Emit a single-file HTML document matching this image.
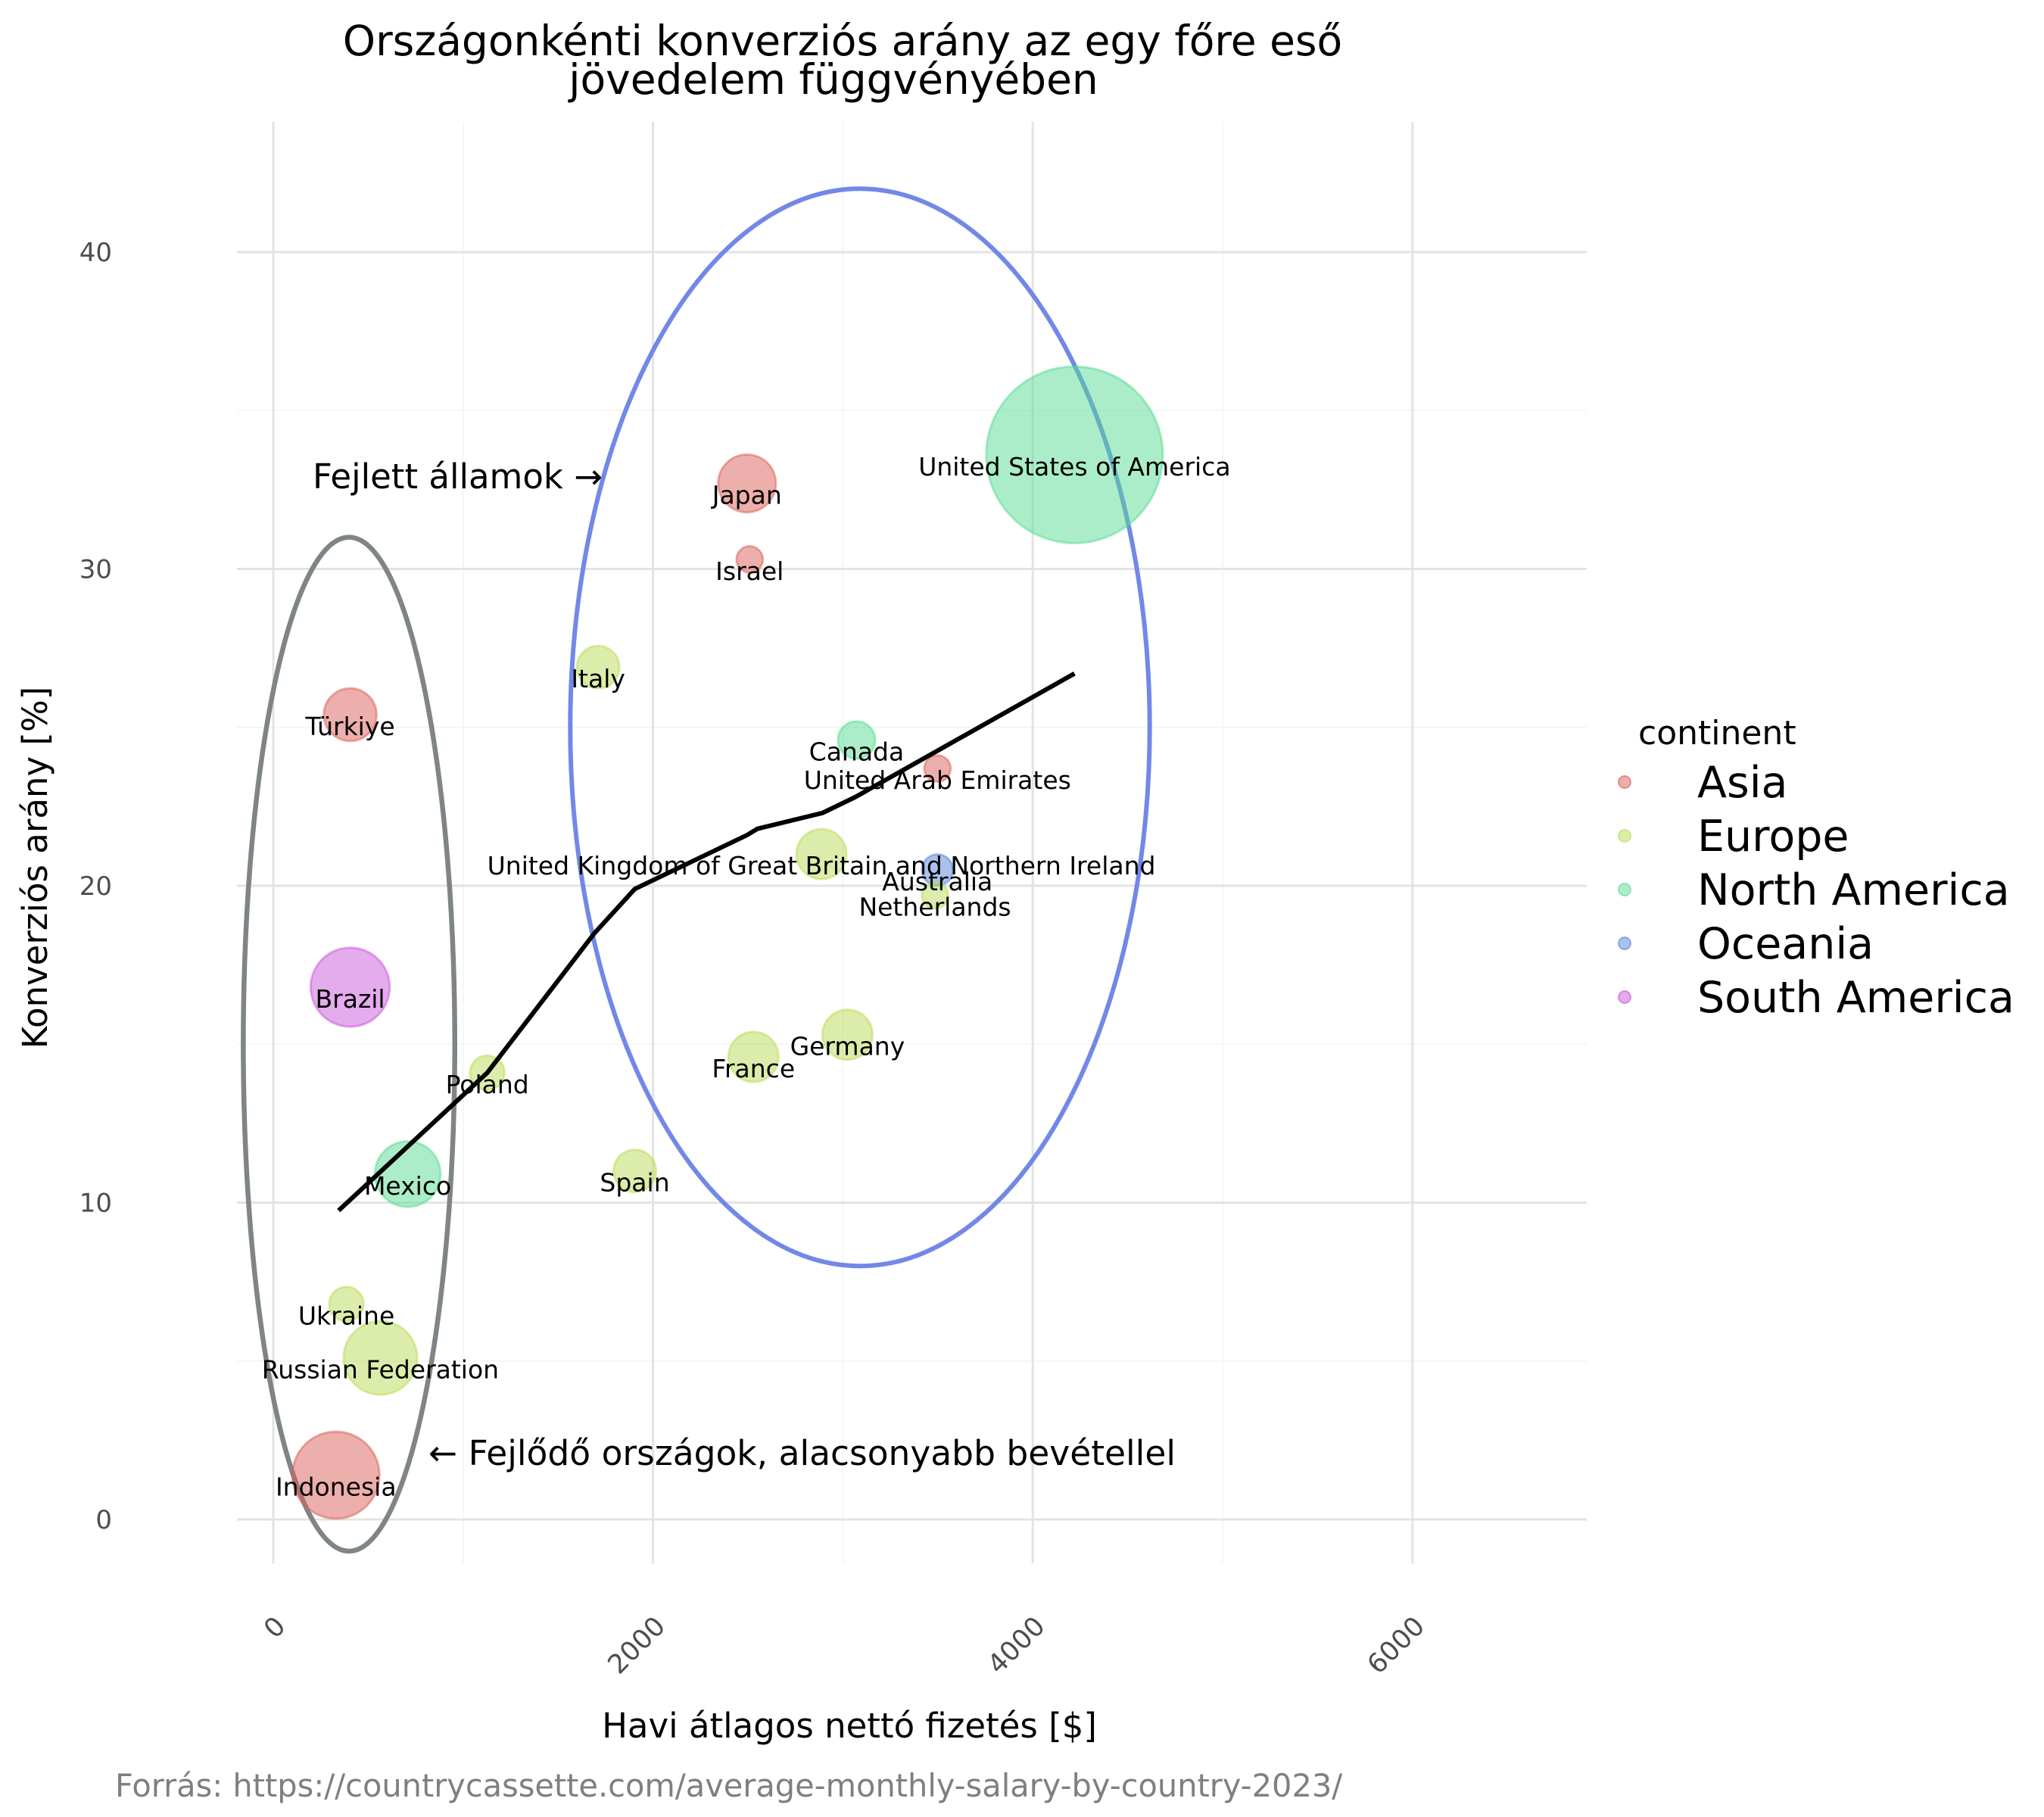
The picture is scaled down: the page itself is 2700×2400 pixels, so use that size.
<!DOCTYPE html>
<html><head><meta charset="utf-8">
<style>
html,body{margin:0;padding:0;background:#fff;}
svg{display:block;font-family:"DejaVu Sans","Liberation Sans",sans-serif;}
</style></head>
<body>
<svg id="chart" width="2700" height="2400" viewBox="0 0 2700 2400">
<g id="grid"></g>
<g id="ellipses"></g>
<g id="points"></g>
<g id="trend"></g>
<g id="labels"></g>
<g id="ticks"></g>
<text x="1113" y="73" font-size="55" text-anchor="middle">Országonkénti konverziós arány az egy főre eső</text>
<text x="1101" y="124" font-size="55" text-anchor="middle">jövedelem függvényében</text>
<text transform="translate(62,1146) rotate(-90)" font-size="45" text-anchor="middle">Konverziós arány [%]</text>
<text x="1122" y="2295" font-size="45" text-anchor="middle">Havi átlagos nettó fizetés [$]</text>
<text x="152" y="2373" font-size="41.5" fill="#7f7f7f">Forrás: https://countrycassette.com/average-monthly-salary-by-country-2023/</text>
<text x="413" y="645" font-size="45">Fejlett államok →</text>
<text x="566" y="1935" font-size="45.5">← Fejlődő országok, alacsonyabb bevétellel</text>
<g id="legend">
<text x="2164" y="983" font-size="44">continent</text>
</g>
</svg>
<script>
const names=["Türkiye","Japan","Israel","United States of America","Italy","Canada","United Arab Emirates","United Kingdom of Great Britain and Northern Ireland","Australia","Netherlands","Brazil","Germany","France","Poland","Spain","Mexico","Ukraine","Russian Federation","Indonesia"];
const salary=[405,2495,2509,4220,1711,3072,3498,2887,3498,3485,405,3024,2529,1127,1904,708,385,564,330];
const conversion=[25.4,32.7,30.3,33.6,26.9,24.6,23.7,21.0,20.5,19.7,16.8,15.3,14.6,14.1,11.0,10.9,6.8,5.1,1.4];
const sizes=[40,48,10,449,26,20,10,36,14,10,90,36,36,17,26,62,17,78,109];
const continents=["Asia","Asia","Asia","North America","Europe","North America","Asia","Europe","Oceania","Europe","South America","Europe","Europe","Europe","Europe","North America","Europe","Europe","Asia"];
const trendX=[344,1127,1691,1904,2495,2550,2893,3065,4220];
const trendY=[9.75,14.1,18.5,19.9,21.6,21.8,22.3,22.8,26.7];
const legendNames=["Asia","Europe","North America","Oceania","South America"];
const legendColors=["#db5f57","#b9db57","#57db94","#5784db","#c957db"];
const xTicks=[0,2000,4000,6000];
const yTicks=[0,10,20,30,40];

const NS="http://www.w3.org/2000/svg";
const X0=361,XK=0.2508,Y0=2007,YK=41.85;
const L=313,R=2096,T=161,B=2065;
function sx(v){return X0+v*XK;}
function sy(v){return Y0-v*YK;}
function mk(tag,attrs,parent){const e=document.createElementNS(NS,tag);for(const k in attrs)e.setAttribute(k,attrs[k]);parent.appendChild(e);return e;}
const colorOf={};legendNames.forEach((n,i)=>colorOf[n]=legendColors[i]);

const grid=document.getElementById('grid');
[1000,3000,5000].forEach(v=>{const l=mk('line',{x1:sx(v),x2:sx(v),y1:T,y2:B,stroke:'#f3f3f3','stroke-width':1.5},grid);

});
[5,15,25,35].forEach(v=>{const l=mk('line',{x1:L,x2:R,y1:sy(v),y2:sy(v),stroke:'#f3f3f3','stroke-width':1.5},grid);

});
xTicks.forEach(v=>{const l=mk('line',{x1:sx(v),x2:sx(v),y1:T,y2:B,stroke:'#e3e3e3','stroke-width':3},grid);

});
yTicks.forEach(v=>{const l=mk('line',{x1:L,x2:R,y1:sy(v),y2:sy(v),stroke:'#e3e3e3','stroke-width':3},grid);

});

const tk=document.getElementById('ticks');
yTicks.forEach(v=>{const t=mk('text',{x:148,y:sy(v)+12,'font-size':34,'text-anchor':'end',fill:'#4d4d4d'},tk);t.textContent=v;

});
xTicks.forEach(v=>{const t=mk('text',{transform:`translate(${sx(v)+18},2150) rotate(-45)`,'font-size':35,'text-anchor':'end',fill:'#4d4d4d'},tk);t.textContent=v;

});

const el=document.getElementById('ellipses');
const e1=mk('ellipse',{cx:sx(399),cy:sy(15),rx:557*XK,ry:16*YK,fill:'none',stroke:'#7f8487','stroke-width':6.5},el);


const e2=mk('ellipse',{cx:sx(3090),cy:sy(25),rx:1526*XK,ry:17*YK,fill:'none',stroke:'#7288e8','stroke-width':6},el);



const pts=document.getElementById('points');
const lab=document.getElementById('labels');
names.forEach((n,i)=>{
  const c=colorOf[continents[i]];
  const r=Math.sqrt(sizes[i]*10)*1.74;
  const p=mk('circle',{cx:sx(salary[i]),cy:sy(conversion[i]),r:r,fill:c,'fill-opacity':0.5,stroke:c,'stroke-opacity':0.5,'stroke-width':3},pts);
  
  
  const t=mk('text',{x:sx(salary[i]),y:sy(conversion[i])+27,'font-size':33,'text-anchor':'middle'},lab);
  t.textContent=n;
  
  
});

const tr=document.getElementById('trend');
const path=mk('polyline',{points:trendX.map((v,i)=>sx(v)+','+sy(trendY[i])).join(' '),fill:'none',stroke:'#000','stroke-width':6},tr);



const lg=document.getElementById('legend');
legendNames.forEach((n,i)=>{
  const y=1033+i*71;
  const d=mk('circle',{cx:2146,cy:y,r:8,fill:legendColors[i],'fill-opacity':0.5,stroke:legendColors[i],'stroke-opacity':0.6,'stroke-width':2},lg);
  
  
  const t=mk('text',{x:2242,y:y+20,'font-size':57},lg);t.textContent=n;
  
  
});
</script>
</body></html>
